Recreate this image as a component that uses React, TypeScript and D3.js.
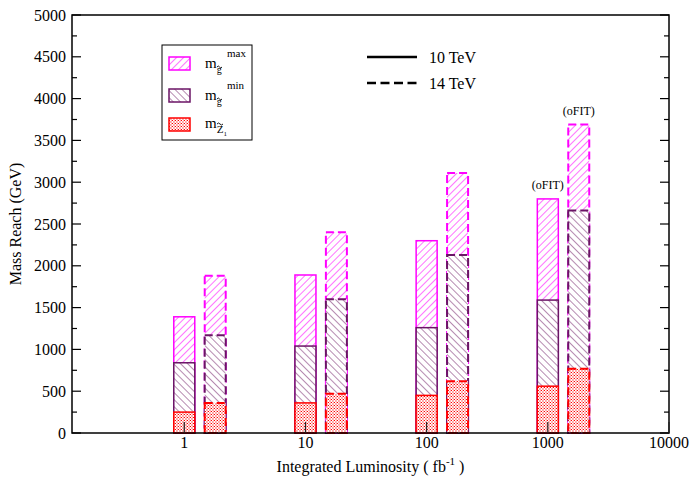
import React from "react";
import * as d3 from "d3";

const luminosity = [1, 10, 100, 1000];
const offset14 = 1.8;
const gluinoMax10 = [1390, 1890, 2300, 2800];
const gluinoMin10 = [840, 1040, 1260, 1590];
const neutralino10 = [250, 360, 450, 560];
const gluinoMax14 = [1880, 2400, 3110, 3690];
const gluinoMin14 = [1170, 1600, 2130, 2660];
const neutralino14 = [360, 470, 620, 770];
const xTicks = [1, 10, 100, 1000, 10000];
const yMajor = [0, 500, 1000, 1500, 2000, 2500, 3000, 3500, 4000, 4500, 5000];
const yMinor = d3.range(250, 5000, 500);
const oFitIndex = 3;

const W = 691, H = 477;
const L = 72, R = 669, T = 15, B = 433;
const FONT = '"Liberation Serif", "Times New Roman", Times, serif';
const MAG = "#ff00ff";
const PUR = "#6b1466";
const RED = "#ff0000";
const ts = { fontFamily: FONT };

export default function App() {
  const x = d3.scaleLog().domain([Math.pow(10, (L - 184.3) / 121.2), 10000]).range([L, R]);
  const y = d3.scaleLinear().domain([0, 5000]).range([B, T]);
  const bw = 21;

  const bars: any[] = [];
  luminosity.forEach((l, i) => {
    [
      { xv: l, mx: gluinoMax10[i], mn: gluinoMin10[i], z: neutralino10[i], dash: false },
      { xv: l * offset14, mx: gluinoMax14[i], mn: gluinoMin14[i], z: neutralino14[i], dash: true },
    ].forEach((b, j) => {
      const cx = x(b.xv);
      const da = b.dash ? "8,4" : undefined;
      const sw = b.dash ? 2 : 1.5;
      const layers = [
        { v: b.mx, fill: "url(#hMax)", stroke: MAG },
        { v: b.mn, fill: "url(#hMin)", stroke: PUR },
        { v: b.z, fill: "url(#hZ)", stroke: RED },
      ];
      layers.forEach((ly, k) => {
        bars.push(
          <rect key={`b${i}-${j}-${k}`} x={cx - bw / 2} y={y(ly.v)} width={bw} height={y(0) - y(ly.v)}
            fill={ly.fill} stroke={ly.stroke} strokeWidth={sw} strokeDasharray={da} />
        );
      });
      if (i === oFitIndex) {
        bars.push(
          <text key={`of${j}`} x={cx} y={y(b.mx) - 10} textAnchor="middle" fontSize={12} style={ts}>(oFIT)</text>
        );
      }
    });
  });

  const tilde = (x0: number, y0: number, w: number) =>
    `M${x0},${y0} Q${x0 + w / 4},${y0 - 2} ${x0 + w / 2},${y0} T${x0 + w},${y0}`;

  const sym = (mx: number, my: number, sub: string, sup: string | null, supY: number, subsub: boolean) => (
    <g>
      <text x={mx} y={my} fontSize={15} style={ts}>
        m<tspan fontSize={sub === "Z" ? 11 : 10} dy={5}>{sub}</tspan>
        {subsub ? <tspan fontSize={7} dy={3}>1</tspan> : null}
      </text>
      <path d={tilde(mx + 12, sub === "Z" ? my - 4 : my - 1, sub === "Z" ? 6 : 5)} fill="none" stroke="#000" strokeWidth={0.9} />
      {sup ? <text x={mx + 22} y={supY} fontSize={11} style={ts}>{sup}</text> : null}
    </g>
  );

  return (
    <svg width={W} height={H} style={{ position: "absolute", left: 0, top: 0, background: "#fff", fontFamily: FONT }}>
      <defs>
        <pattern id="hMax" patternUnits="userSpaceOnUse" width={5} height={5} patternTransform="rotate(45)">
          <rect width={5} height={5} fill="#fff" />
          <line x1={0} y1={0} x2={0} y2={5} stroke={MAG} strokeWidth={1.1} />
        </pattern>
        <pattern id="hMin" patternUnits="userSpaceOnUse" width={5} height={5} patternTransform="rotate(-45)">
          <rect width={5} height={5} fill="#fff" />
          <line x1={0} y1={0} x2={0} y2={5} stroke="#7a2a70" strokeWidth={1.1} />
        </pattern>
        <pattern id="hZ" patternUnits="userSpaceOnUse" width={3} height={3}>
          <rect width={3} height={3} fill="#fff" />
          <rect x={0} y={0} width={1} height={3} fill="#ffb4b4" />
          <rect x={1} y={0} width={1} height={1} fill={RED} />
          <rect x={2} y={1.5} width={1} height={1} fill="#ff5050" />
        </pattern>
      </defs>

      {bars}

      {/* frame */}
      <rect x={L} y={T} width={R - L} height={B - T} fill="none" stroke="#000" strokeWidth={1.5} />

      {/* y ticks */}
      {yMajor.map((v) => (
        <g key={`ym${v}`}>
          <line x1={L} x2={L + 9} y1={y(v)} y2={y(v)} stroke="#000" strokeWidth={1.2} />
          <line x1={R} x2={R - 9} y1={y(v)} y2={y(v)} stroke="#000" strokeWidth={1.2} />
          <text x={L - 6} y={y(v)} dy="0.35em" textAnchor="end" fontSize={16} style={ts}>{v}</text>
        </g>
      ))}
      {yMinor.map((v) => (
        <g key={`yn${v}`}>
          <line x1={L} x2={L + 5} y1={y(v)} y2={y(v)} stroke="#000" strokeWidth={1.2} />
          <line x1={R} x2={R - 5} y1={y(v)} y2={y(v)} stroke="#000" strokeWidth={1.2} />
        </g>
      ))}

      {/* x ticks */}
      {xTicks.map((v) => (
        <g key={`xt${v}`}>
          <line x1={x(v)} x2={x(v)} y1={B} y2={B - 11} stroke="#222" strokeWidth={1.2} />
          <text x={x(v)} y={B + 15} textAnchor="middle" fontSize={16} style={ts}>{v}</text>
        </g>
      ))}

      {/* axis labels */}
      <text transform={`translate(21,${(T + B) / 2}) rotate(-90)`} textAnchor="middle" fontSize={16} style={ts}>Mass Reach (GeV)</text>
      <text x={(L + R) / 2} y={472} textAnchor="middle" fontSize={16} style={ts}>
        Integrated Luminosity ( fb<tspan dy={-7} fontSize={11}>-1</tspan><tspan dy={7}> )</tspan>
      </text>

      {/* legend box */}
      <rect x={162} y={45} width={90} height={95} fill="#fff" stroke="#000" strokeWidth={1} />
      <rect x={169} y={57} width={21} height={13} fill="url(#hMax)" stroke={MAG} strokeWidth={1.5} />
      <rect x={169} y={89} width={21} height={13} fill="url(#hMin)" stroke={PUR} strokeWidth={1.5} />
      <rect x={169} y={118} width={21} height={13} fill="url(#hZ)" stroke={RED} strokeWidth={1.5} />
      {sym(205, 68, "g", "max", 57, false)}
      {sym(205, 100, "g", "min", 89, false)}
      {sym(205, 128, "Z", null, 0, true)}

      {/* energy legend */}
      <line x1={367} x2={417} y1={57} y2={57} stroke="#000" strokeWidth={2.5} />
      <text x={429} y={63} fontSize={16} style={ts}>10 TeV</text>
      <line x1={367} x2={417} y1={83} y2={83} stroke="#000" strokeWidth={2.5} strokeDasharray="9,4.5" />
      <text x={429} y={89} fontSize={16} style={ts}>14 TeV</text>
    </svg>
  );
}
